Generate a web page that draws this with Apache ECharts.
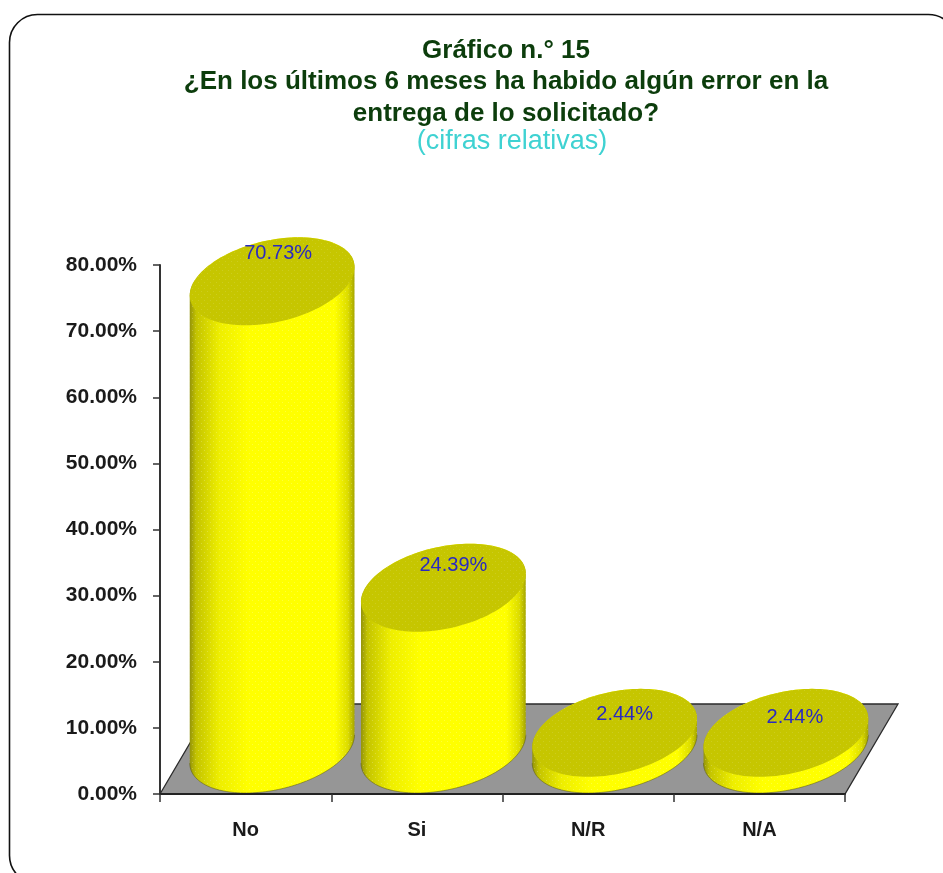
<!DOCTYPE html>
<html>
<head>
<meta charset="utf-8">
<style>html,body{margin:0;padding:0;background:#fff}#c{width:943px;height:873px}</style>
<script src="https://cdn.jsdelivr.net/npm/echarts@6/dist/echarts.min.js"></script>
</head>
<body>
<div id="c"></div>
<script>
const categories = ['No', 'Si', 'N/R', 'N/A'];
const values = [70.73, 24.39, 2.44, 2.44];
const tickMax = 80;
const tickStep = 10;
const titleLines = [
  'Gráfico n.° 15',
  '¿En los últimos 6 meses ha habido algún error en la',
  'entrega de lo solicitado?'
];
const subtitle = '(cifras relativas)';
// style constants
const FONT = '"Liberation Sans", Arial, sans-serif';
const DEPTH_X = 53, DEPTH_Y = 90;
const RADIUS_BAND = 0.4555;
const labelNudge = [[6, -28], [10, -22], [10, -18], [9, -15]];

function texture(alpha, step) {
  const cv = document.createElement('canvas');
  cv.width = step; cv.height = step;
  const g = cv.getContext('2d');
  g.fillStyle = 'rgba(255,255,255,' + alpha + ')';
  g.fillRect(0, 0, 1, 1);
  g.fillRect(Math.floor(step / 2), Math.floor(step / 2), 1, 1);
  return cv;
}
const bodyDots = texture(0.22, 6);
const capDots = texture(0.12, 6);

function ellipsePts(cx, cy, ux, dx, dy, from, to, n) {
  const pts = [];
  for (let i = 0; i <= n; i++) {
    const t = from + (to - from) * i / n;
    pts.push([cx + ux * Math.cos(t) + dx * Math.sin(t), cy - dy * Math.sin(t)]);
  }
  return pts;
}

function renderCylinder(params, api) {
  const i = api.value(0);
  const base = api.coord([i, 0]);
  const top = api.coord([i, api.value(1)]);
  const ux = api.size([1, 0])[0] * RADIUS_BAND;
  const dx = DEPTH_X / 2, dy = DEPTH_Y / 2 - 1;
  const cx = base[0] + DEPTH_X / 2;
  const cyBase = base[1] - DEPTH_Y / 2;
  const cyTop = top[1] - DEPTH_Y / 2;
  const t0 = Math.atan2(dx, ux);
  // lower silhouette of the foot disc, from the right extreme round to the left extreme
  const lower = ellipsePts(cx, cyBase, ux, dx, dy, t0, t0 - Math.PI, 80);
  const upper = ellipsePts(cx, cyTop, ux, dx, dy, t0 + Math.PI, t0, 80);
  const body = lower.concat(upper);
  const cap = ellipsePts(cx, cyTop, ux, dx, dy, 0, Math.PI * 2, 120);
  const nudge = labelNudge[i];
  return {
    type: 'group',
    children: [
      { type: 'polygon', shape: { points: body }, style: {
        fill: new echarts.graphic.LinearGradient(0, 0, 1, 0, [
          { offset: 0, color: '#94940a' },
          { offset: 0.04, color: '#c4c400' },
          { offset: 0.18, color: '#eeee00' },
          { offset: 0.36, color: '#ffff00' },
          { offset: 0.88, color: '#ffff00' },
          { offset: 0.96, color: '#dcdc00' },
          { offset: 1, color: '#a6a600' }
        ]) } },
      { type: 'polygon', shape: { points: body }, style: { fill: { image: bodyDots, repeat: 'repeat' } } },
      { type: 'polyline', shape: { points: lower }, style: { fill: null, stroke: '#55550a', lineWidth: 1, opacity: 0.5 } },
      { type: 'polygon', shape: { points: cap }, style: { fill: '#c6c600' } },
      { type: 'polygon', shape: { points: cap }, style: { fill: { image: capDots, repeat: 'repeat' } } },
      { type: 'text', x: cx + nudge[0], y: cyTop + nudge[1], style: {
        text: api.value(1).toFixed(2) + '%', fill: '#2a2ac0',
        font: '20px ' + FONT, align: 'center', verticalAlign: 'middle' } }
    ]
  };
}

function renderFloor(params, api) {
  const cs = params.coordSys;
  const y0 = api.coord([0, 0])[1];
  const a = [cs.x, y0];
  const b = [cs.x + cs.width, y0];
  const pts = [a, b, [b[0] + DEPTH_X, b[1] - DEPTH_Y], [a[0] + DEPTH_X, a[1] - DEPTH_Y]];
  return {
    type: 'group',
    children: [
      { type: 'polygon', shape: { points: pts }, style: { fill: '#969696', stroke: '#2b2b2b', lineWidth: 1.3 } }
    ]
  };
}

const lineTops = [38, 69, 101];
const chart = echarts.init(document.getElementById('c'), null, { renderer: 'canvas' });
chart.setOption({
  animation: false,
  backgroundColor: '#ffffff',
  title: titleLines.map((t, k) => ({
    text: t, left: 506, top: lineTops[k], textAlign: 'center', padding: 0,
    textStyle: { fontFamily: FONT, fontWeight: 'bold', fontSize: 26, color: '#0c3d0c' }
  })).concat([{
    text: subtitle, left: 512, top: 128, textAlign: 'center', padding: 0,
    textStyle: { fontFamily: FONT, fontWeight: 'normal', fontSize: 27, color: '#3fd2d2' }
  }]),
  graphic: [{
    type: 'rect', silent: true, z: -1,
    shape: { x: 9.5, y: 14.5, width: 947, height: 869, r: 28 },
    style: { fill: '#ffffff', stroke: '#111111', lineWidth: 1.6 }
  }],
  grid: { left: 160, right: 98, top: 265, bottom: 79, containLabel: false },
  xAxis: {
    type: 'category', data: categories, z: 5,
    axisLine: { show: true, lineStyle: { color: '#222', width: 2 } },
    axisTick: { show: true, alignWithLabel: false, length: 8, lineStyle: { color: '#333', width: 1.5 } },
    axisLabel: { margin: 26, fontFamily: FONT, fontSize: 20, fontWeight: 'bold', color: '#1a1a1a' },
    splitLine: { show: false }
  },
  yAxis: {
    type: 'value', min: 0, max: tickMax, interval: tickStep, z: 5,
    axisLine: { show: true, lineStyle: { color: '#333', width: 2 } },
    axisTick: { show: true, length: 7, lineStyle: { color: '#333', width: 1.5 } },
    axisLabel: { margin: 23, fontFamily: FONT, fontSize: 21, fontWeight: 'bold', color: '#1a1a1a',
      formatter: v => v.toFixed(2) + '%' },
    splitLine: { show: false }
  },
  series: [
    { type: 'custom', z: 1, silent: true, renderItem: renderFloor, data: [[0, 0]], clip: false },
    { type: 'custom', z: 2, silent: true, renderItem: renderCylinder,
      encode: { x: 0, y: 1 }, clip: false,
      data: values.map((v, i) => [i, v]) }
  ]
});
</script>
</body>
</html>
